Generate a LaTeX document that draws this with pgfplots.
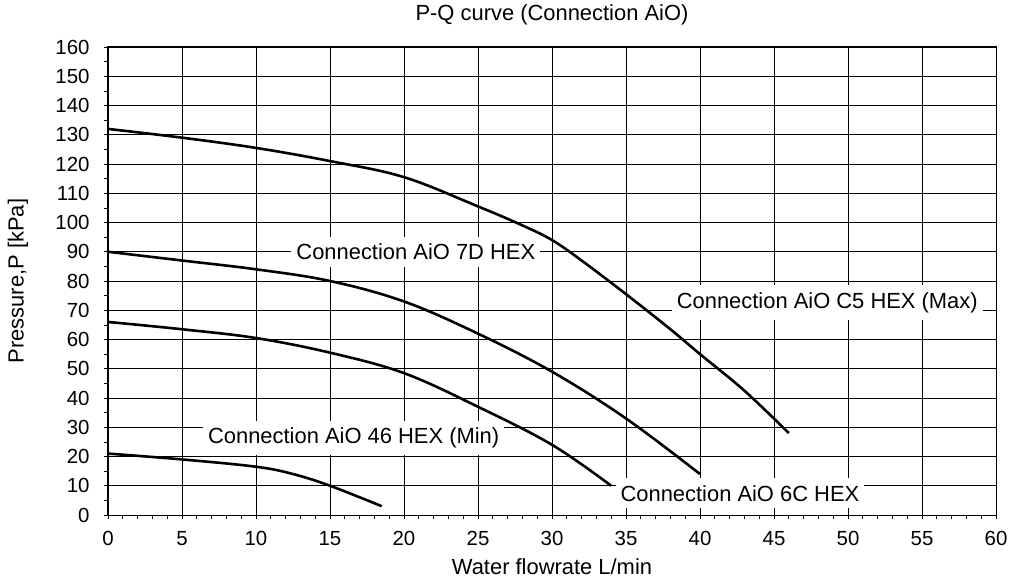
\documentclass[border=0pt]{standalone}
\usepackage{fontspec}
\setmainfont{Liberation Sans}
\usepackage{pgfplots}
\pgfplotsset{compat=1.18}
\pgfplotsset{curve/.style={black, line width=2.6bp, smooth, tension=0.6, mark=none}}
\begin{document}
\begin{tikzpicture}
\begin{axis}[
  at={(0,0)}, anchor=south west,
  scale only axis, width=888bp, height=468bp,
  xmin=0, xmax=60, ymin=0, ymax=160,
  xtick={0,5,...,60}, ytick={0,10,...,160},
  minor x tick num=4, minor y tick num=1,
  grid=major, major grid style={black, line width=0.7bp},
  axis line style={black, line width=1bp},
  tick align=outside, tick pos=left,
  major tick length=4bp, minor tick length=4bp,
  tick style={black, line width=0.7bp},
  /pgf/number format/assume math mode=true,
  ticklabel style={font=\fontsize{20.5}{21}\selectfont},
  xticklabel style={yshift=-9bp},
  yticklabel style={xshift=-11bp},
  xlabel={Water flowrate L/min},
  ylabel={Pressure,P [kPa]},
  title={P-Q curve (Connection AiO)},
  xlabel style={at={(axis description cs:0.5,-0.111)}, anchor=center, font=\fontsize{22}{23}\selectfont},
  ylabel style={at={(axis description cs:-0.1014,0.5)}, anchor=center, font=\fontsize{22}{23}\selectfont},
  title style={at={(axis description cs:0.5,1.0555)}, anchor=center, font=\fontsize{22}{23}\selectfont},
]
% Connection AiO C5 HEX (Max)
\addplot[curve] coordinates {(0,132) (5,129) (10,125.5) (15,121) (20,115.5) (25,105.5) (28,99) (30,94) (32,87) (35,75.5) (38,63.5) (40,55) (43,42.5) (46,28)};
% Connection AiO 7D HEX
\addplot[curve] coordinates {(0,90) (5,87) (10,84) (15,80) (20,73) (25,62) (30,49) (35,33) (40,14)};
% Connection AiO 6C HEX
\addplot[curve] coordinates {(0,66) (5,63.5) (10,60.5) (15,55.5) (20,48.5) (25,37) (30,24) (34,10)};
% Connection AiO 46 HEX (Min)
\addplot[curve] coordinates {(0,21) (5,19) (10,16.5) (12.5,14) (15,10) (18.5,3)};
\begin{scope}[every node/.style={fill=white, inner xsep=5bp, inner ysep=7bp, font=\fontsize{22}{23}\selectfont}]
\node at (axis cs:20.8,90) {Connection AiO 7D HEX};
\node at (axis cs:48.6,72.6) {Connection AiO C5 HEX (Max)};
\node at (axis cs:16.6,26.3) {Connection AiO 46 HEX (Min)};
\node at (axis cs:42.7,7.4) {Connection AiO 6C HEX};
\end{scope}
\end{axis}
\pgfresetboundingbox
\path[use as bounding box] (-108bp,-73bp) rectangle (906bp,515bp);
\end{tikzpicture}
\end{document}
